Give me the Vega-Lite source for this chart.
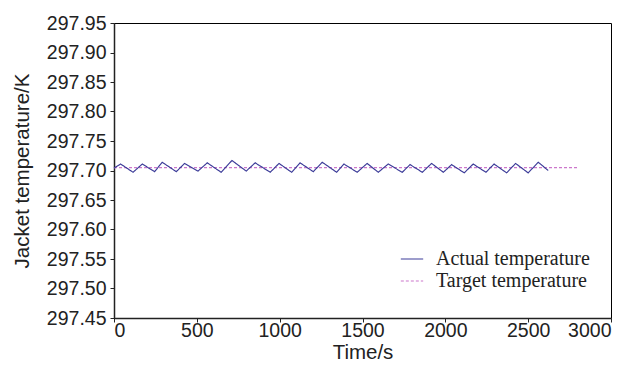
{
  "$schema": "https://vega.github.io/schema/vega-lite/v6.json",
  "width": 497,
  "height": 295,
  "autosize": {"type": "none"},
  "padding": {"left": 114, "top": 23, "right": 25, "bottom": 53},
  "background": "white",
  "config": {
    "view": {"stroke": "black", "strokeWidth": 1},
    "axis": {
      "grid": false,
      "domainColor": "#222",
      "domainWidth": 1.5,
      "tickColor": "#222",
      "tickSize": 4,
      "labelFont": "Liberation Sans",
      "labelFontSize": 19.5,
      "labelColor": "#222",
      "labelOverlap": false,
      "titleFont": "Liberation Sans",
      "titleFontSize": 20.5,
      "titleFontWeight": "normal",
      "titleColor": "#222"
    }
  },
  "data": {
    "values": [
      {"series": "Target temperature", "t": 0, "v": 297.705},
      {"series": "Target temperature", "t": 2800, "v": 297.705},
      {"series": "Actual temperature", "t": 0, "v": 297.704}, {"series": "Actual temperature", "t": 40, "v": 297.711},
      {"series": "Actual temperature", "t": 115, "v": 297.697}, {"series": "Actual temperature", "t": 171, "v": 297.711},
      {"series": "Actual temperature", "t": 245, "v": 297.698}, {"series": "Actual temperature", "t": 291, "v": 297.714},
      {"series": "Actual temperature", "t": 376, "v": 297.698}, {"series": "Actual temperature", "t": 426, "v": 297.712},
      {"series": "Actual temperature", "t": 507, "v": 297.699}, {"series": "Actual temperature", "t": 563, "v": 297.713},
      {"series": "Actual temperature", "t": 647, "v": 297.697}, {"series": "Actual temperature", "t": 712, "v": 297.717},
      {"series": "Actual temperature", "t": 798, "v": 297.699}, {"series": "Actual temperature", "t": 852, "v": 297.713},
      {"series": "Actual temperature", "t": 943, "v": 297.697}, {"series": "Actual temperature", "t": 996, "v": 297.712},
      {"series": "Actual temperature", "t": 1072, "v": 297.697}, {"series": "Actual temperature", "t": 1123, "v": 297.713},
      {"series": "Actual temperature", "t": 1203, "v": 297.698}, {"series": "Actual temperature", "t": 1257, "v": 297.714},
      {"series": "Actual temperature", "t": 1344, "v": 297.697}, {"series": "Actual temperature", "t": 1388, "v": 297.711},
      {"series": "Actual temperature", "t": 1468, "v": 297.697}, {"series": "Actual temperature", "t": 1528, "v": 297.712},
      {"series": "Actual temperature", "t": 1595, "v": 297.697}, {"series": "Actual temperature", "t": 1655, "v": 297.711},
      {"series": "Actual temperature", "t": 1740, "v": 297.697}, {"series": "Actual temperature", "t": 1787, "v": 297.710},
      {"series": "Actual temperature", "t": 1861, "v": 297.697}, {"series": "Actual temperature", "t": 1917, "v": 297.712},
      {"series": "Actual temperature", "t": 1988, "v": 297.697}, {"series": "Actual temperature", "t": 2038, "v": 297.710},
      {"series": "Actual temperature", "t": 2114, "v": 297.696}, {"series": "Actual temperature", "t": 2168, "v": 297.711},
      {"series": "Actual temperature", "t": 2245, "v": 297.697}, {"series": "Actual temperature", "t": 2294, "v": 297.711},
      {"series": "Actual temperature", "t": 2370, "v": 297.696}, {"series": "Actual temperature", "t": 2424, "v": 297.712},
      {"series": "Actual temperature", "t": 2500, "v": 297.696}, {"series": "Actual temperature", "t": 2561, "v": 297.714},
      {"series": "Actual temperature", "t": 2621, "v": 297.700}
    ]
  },
  "mark": {"type": "line", "strokeWidth": 1.15},
  "encoding": {
    "x": {
      "field": "t", "type": "quantitative",
      "scale": {"domain": [0, 3000], "nice": false},
      "axis": {"values": [0, 500, 1000, 1500, 2000, 2500, 3000], "format": "d", "title": "Time/s", "titlePadding": 3, "labelPadding": -1, "labelOverlap": false}
    },
    "y": {
      "field": "v", "type": "quantitative",
      "scale": {"domain": [297.45, 297.95], "nice": false, "zero": false},
      "axis": {
        "tickCount": 10,
        "format": ".2f", "title": "Jacket temperature/K", "titlePadding": 14, "labelPadding": 4, "labelOverlap": false
      }
    },
    "color": {
      "field": "series", "type": "nominal",
      "scale": {"domain": ["Actual temperature", "Target temperature"], "range": ["#3b3b98", "#cc77cc"]},
      "legend": {
        "orient": "none", "legendX": 286, "legendY": 224, "title": null,
        "symbolType": "stroke", "symbolSize": 500, "symbolStrokeWidth": 1.2,
        "labelFont": "Liberation Serif", "labelFontSize": 20, "labelColor": "#222",
        "labelOffset": 12, "rowPadding": 0, "labelLimit": 400
      }
    },
    "strokeDash": {
      "field": "series", "type": "nominal",
      "scale": {"domain": ["Actual temperature", "Target temperature"], "range": [[1, 0], [3, 2]]},
      "legend": null
    }
  }
}
